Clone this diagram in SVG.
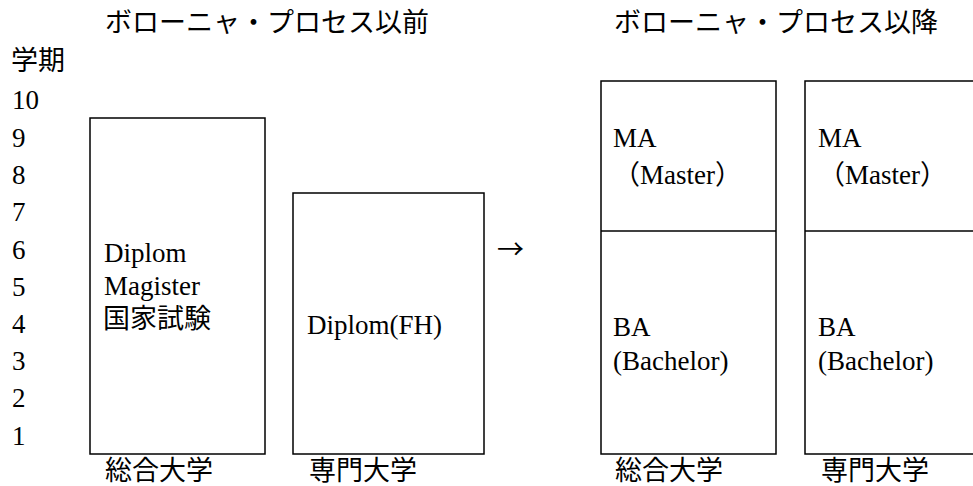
<svg xmlns="http://www.w3.org/2000/svg" width="973" height="486" viewBox="0 0 973 486">
  <style>
    text { font-family: "Liberation Serif", "Noto Sans CJK JP", serif; font-size: 27px; fill: #000; }
    .arrow { font-family: "Noto Sans CJK JP", sans-serif; }
    .box { fill: #fff; stroke: #000; stroke-width: 1.5; }
    .div { stroke: #000; stroke-width: 1.5; }
  </style>
  <rect x="0" y="0" width="973" height="486" fill="#fff"/>
  <g id="titles">
    <text x="105" y="32">ボローニャ・プロセス以前</text>
    <text x="614" y="32">ボローニャ・プロセス以降</text>
  </g>
  <g id="axis">
    <text x="11" y="70">学期</text>
    <text x="12" y="109">10</text>
    <text x="12" y="147">9</text>
    <text x="12" y="184">8</text>
    <text x="12" y="221">7</text>
    <text x="12" y="259">6</text>
    <text x="12" y="296">5</text>
    <text x="12" y="333">4</text>
    <text x="12" y="370">3</text>
    <text x="12" y="407">2</text>
    <text x="12" y="445">1</text>
  </g>
  <g id="before-uni">
    <rect class="box" x="90" y="118" width="175" height="336"/>
    <text x="104" y="262">Diplom</text>
    <text x="104" y="295">Magister</text>
    <text x="103" y="328">国家試験</text>
    <text x="105" y="480">総合大学</text>
  </g>
  <g id="before-fh">
    <rect class="box" x="293" y="193" width="191" height="261"/>
    <text x="307" y="334">Diplom(FH)</text>
    <text x="309" y="480">専門大学</text>
  </g>
  <g id="connectors">
    <text class="arrow" x="497" y="259">→</text>
  </g>
  <g id="after-uni">
    <rect class="box" x="601" y="81" width="175" height="373"/>
    <line class="div" x1="601" y1="231" x2="776" y2="231"/>
    <text x="613" y="147">MA</text>
    <text x="613" y="184">（Master）</text>
    <text x="613" y="336">BA</text>
    <text x="613" y="370">(Bachelor)</text>
    <text x="615" y="480">総合大学</text>
  </g>
  <g id="after-fh">
    <rect class="box" x="805" y="81" width="180" height="373"/>
    <line class="div" x1="805" y1="231" x2="985" y2="231"/>
    <text x="818" y="147">MA</text>
    <text x="818" y="184">（Master）</text>
    <text x="818" y="336">BA</text>
    <text x="818" y="370">(Bachelor)</text>
    <text x="821" y="480">専門大学</text>
  </g>
</svg>
